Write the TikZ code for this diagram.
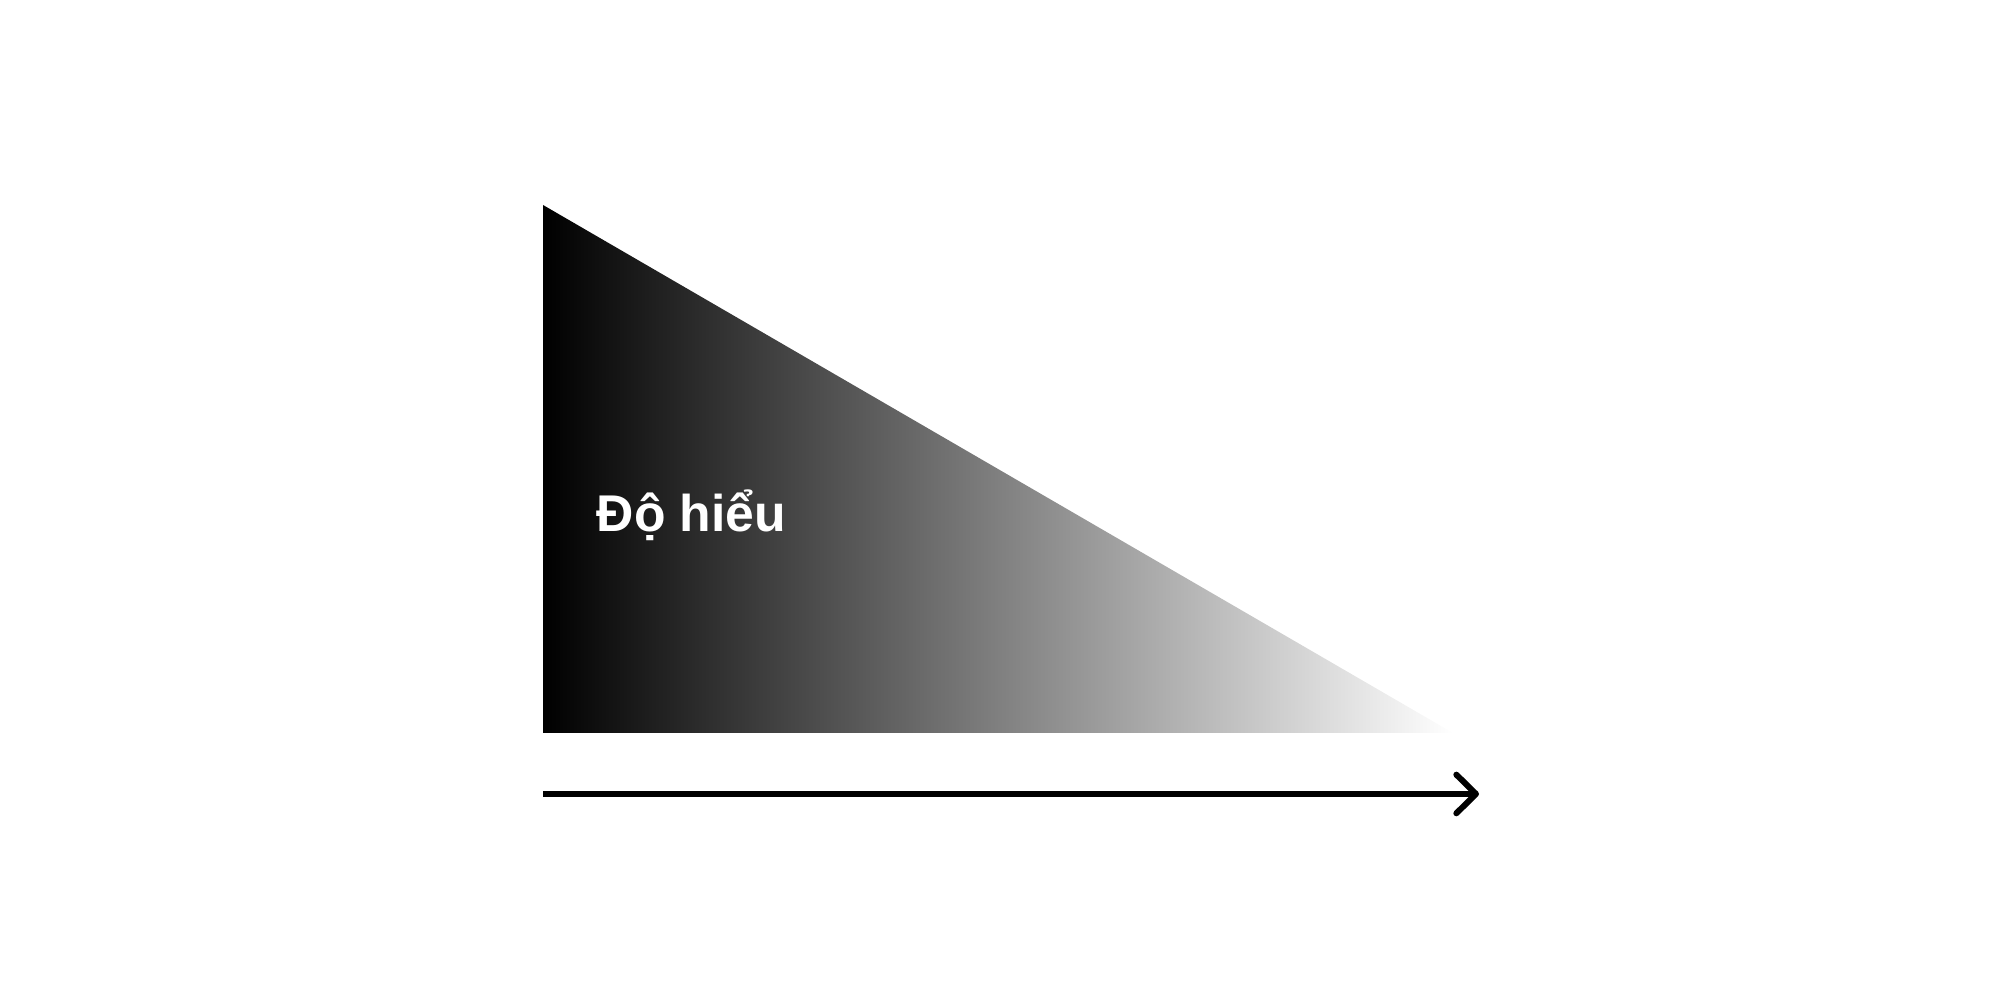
\documentclass[tikz,border=0pt]{standalone}
\usepackage{fontspec}
\setmainfont{Liberation Sans}
\usetikzlibrary{arrows.meta}
\begin{document}
\begin{tikzpicture}
\tikzset{label text/.style={font=\bfseries\fontsize{14.7pt}{17pt}\selectfont, text=white, inner sep=0pt}}
\tikzset{axis/.style={line width=1.7pt, -{Straight Barb[length=5.6pt, width=11pt, line cap=round, round]}}}
\useasboundingbox (0,0) rectangle (20,10);
\shade[left color=black, right color=white] (5.43,7.95) -- (5.43,2.67) -- (14.53,2.67) -- cycle;
\node[label text, anchor=base west] (t) at (5.96,4.68) {Độ hiểu};
\coordinate (a) at (5.43,2.06);
\coordinate (b) at (14.79,2.06);
\draw[axis] (a) -- (b);
\end{tikzpicture}
\end{document}
